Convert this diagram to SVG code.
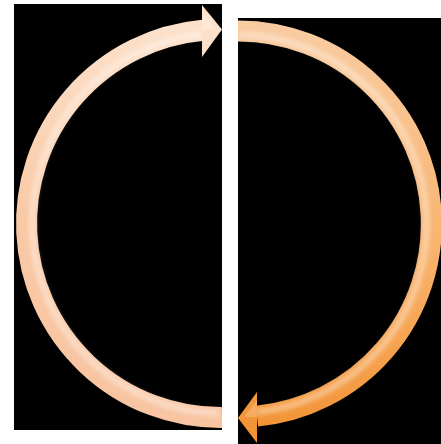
<svg xmlns="http://www.w3.org/2000/svg" width="441" height="444" viewBox="0 0 441 444">
  <defs>
    <linearGradient id="gl" gradientUnits="userSpaceOnUse" x1="0" y1="0" x2="0" y2="440">
      <stop offset="0" stop-color="#FDE4D0"/>
      <stop offset="0.5" stop-color="#F9C9A5"/>
      <stop offset="1" stop-color="#F8C4A2"/>
    </linearGradient>
    <linearGradient id="gr" gradientUnits="userSpaceOnUse" x1="300" y1="20" x2="260" y2="440">
      <stop offset="0" stop-color="#F9CCA2"/>
      <stop offset="0.5" stop-color="#F8B36E"/>
      <stop offset="1" stop-color="#F29232"/>
    </linearGradient>
    <filter id="soft" x="-10%" y="-10%" width="120%" height="120%">
      <feGaussianBlur stdDeviation="2"/>
    </filter>
  </defs>
  <style>
    .shaft { fill: none; stroke-linecap: butt; }
    .hl { stroke-width: 7; stroke: #fff; stroke-opacity: 0.35; }
  </style>
  <rect width="441" height="444" fill="#ffffff"/>
  <rect x="14" y="4" width="208" height="426" fill="#000000"/>
  <rect x="238" y="18" width="203" height="426" fill="#000000"/>

  <g id="left-arrow">
    <path class="shaft" d="M 222 417.5 A 194 194 0 0 1 203 30.3" stroke="url(#gl)" stroke-width="21"/>
    <path class="shaft hl" d="M 219 413 A 190 190 0 0 1 203 34" filter="url(#soft)"/>
    <polygon points="202,5 222,29.5 202,57" fill="url(#gl)"/>
    <polygon points="202,12 216,29.5 202,30" fill="#fff" fill-opacity="0.25"/>
  </g>

  <g id="right-arrow">
    <path class="shaft" d="M 238 31 A 193 193 0 0 1 257 416.1" stroke="url(#gr)" stroke-width="21"/>
    <path class="shaft hl" d="M 238 35 A 189 189 0 0 1 257 412" filter="url(#soft)"/>
    <polygon points="257,392 238,418 257,443" fill="url(#gr)"/>
    <polygon points="257,400 244,417 257,417" fill="#fff" fill-opacity="0.2"/>
  </g>
</svg>
